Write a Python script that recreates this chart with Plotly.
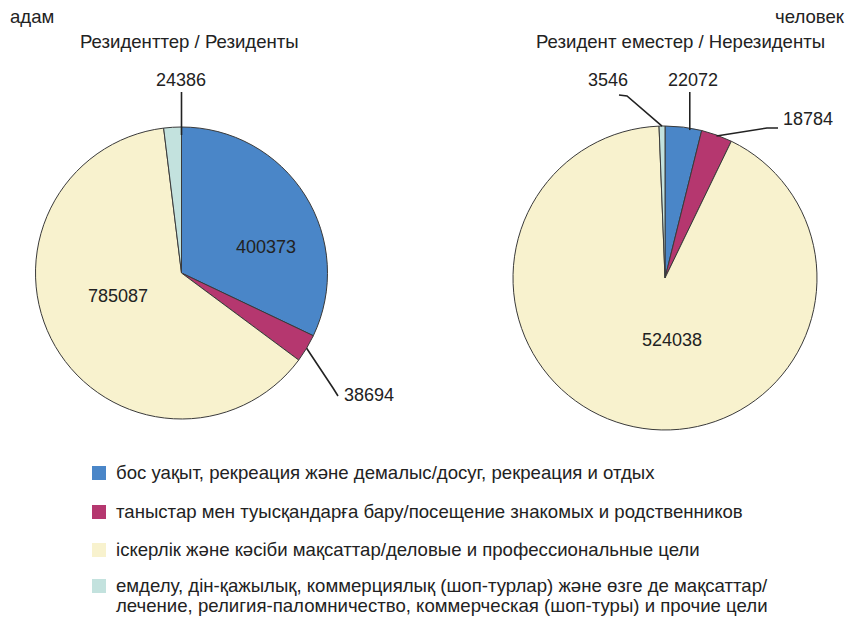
import math
import plotly.graph_objects as go

W, H = 859, 617

# ---- data ----
categories = [
    "бос уақыт, рекреация және демалыс/досуг, рекреация и отдых",
    "таныстар мен туысқандарға бару/посещение знакомых и родственников",
    "іскерлік және кәсіби мақсаттар/деловые и профессиональные цели",
    "емделу, дін-қажылық, коммерциялық (шоп-турлар) және өзге де мақсаттар/<br>лечение, религия-паломничество, коммерческая (шоп-туры) и прочие цели",
]
residents = [400373, 38694, 785087, 24386]
nonresidents = [22072, 18784, 524038, 3546]
titles = ["Резиденттер / Резиденты", "Резидент еместер / Нерезиденты"]
unit_kz = "адам"
unit_ru = "человек"

colors = ["#4a86c8", "#b5376f", "#f8f2ce", "#c3e2de"]
FONT = "Liberation Sans, Arial, sans-serif"
TXT = "#222222"


def px(x):
    return x / W


def py(y):
    return 1 - y / H


# pie geometry (pixels)
pies = [
    dict(vals=residents, cx=181.5, cy=273, r=146),
    dict(vals=nonresidents, cx=665, cy=278, r=152),
]


def angles(vals):
    tot = sum(vals)
    out, a = [], 0.0
    for v in vals:
        da = 360.0 * v / tot
        out.append((a, a + da))
        a += da
    return out


def pt(p, ang, rr):
    t = math.radians(ang)
    return (p["cx"] + rr * math.sin(t), p["cy"] - rr * math.cos(t))


fig = go.Figure()
for p in pies:
    fig.add_trace(go.Pie(
        values=p["vals"], labels=[c.split("<br>")[0] for c in categories], sort=False,
        direction="clockwise", rotation=0, textinfo="none", hoverinfo="label+value",
        marker=dict(colors=colors, line=dict(color="#3a3a3a", width=1)),
        domain=dict(x=[px(p["cx"] - p["r"]), px(p["cx"] + p["r"])],
                    y=[py(p["cy"] + p["r"]), py(p["cy"] - p["r"])]),
        showlegend=False,
    ))

annotations = []
shapes = []


def label(x, y, text, size=18, xanchor="center"):
    annotations.append(dict(x=px(x), y=py(y), xref="paper", yref="paper", text=text,
                            showarrow=False, xanchor=xanchor, yanchor="middle",
                            font=dict(family=FONT, size=size, color=TXT)))


def leader(points):
    d = "M " + " L ".join(f"{px(x)} {py(y)}" for x, y in points)
    shapes.append(dict(type="path", xref="paper", yref="paper", path=d,
                       line=dict(color="#222222", width=1.6)))


# left pie labels
pL, aL = pies[0], angles(residents)
label(266, 247, f"{residents[0]}")
label(118, 296, f"{residents[2]}")
s = pt(pL, (aL[1][0] + aL[1][1]) / 2, pL["r"])
leader([s, (333, 388), (338, 396)])
label(342, 395, f"{residents[1]}", xanchor="left")
s = pt(pL, aL[3][1], pL["r"] - 8)
leader([s, (s[0], 92)])
label(s[0], 80, f"{residents[3]}")

# right pie labels
pR, aR = pies[1], angles(nonresidents)
label(672, 340, f"{nonresidents[2]}")
s = pt(pR, aR[0][0] + 0.68 * (aR[0][1] - aR[0][0]), pR["r"] - 2)
leader([s, (s[0], 92)])
label(s[0] + 3, 80, f"{nonresidents[0]}")
s = pt(pR, (aR[1][0] + aR[1][1]) / 2, pR["r"] - 1)
leader([s, (767, 128), (778, 128)])
label(781, 119, f"{nonresidents[1]}", xanchor="left")
s = pt(pR, (aR[3][0] + aR[3][1]) / 2, pR["r"])
leader([s, (627, 96), (619, 95)])
label(608, 80, f"{nonresidents[3]}")

# titles / units
TS = 18.6
label(189, 42, titles[0], size=TS)
label(680, 42, titles[1], size=TS)
label(8, 17, unit_kz, size=TS, xanchor="left")
label(847, 17, unit_ru, size=TS, xanchor="right")

# legend
rows_y = [472, 511, 549, 585]
for i, (c, t) in enumerate(zip(colors, categories)):
    y = rows_y[i]
    shapes.append(dict(type="rect", xref="paper", yref="paper",
                       x0=px(92), x1=px(106), y0=py(y + 8), y1=py(y - 6),
                       fillcolor=c, line=dict(width=0)))
    for j, line in enumerate(t.split("<br>")):
        annotations.append(dict(x=px(114), y=py(y + 20.5 * j), xref="paper", yref="paper",
                                text=line, showarrow=False, xanchor="left",
                                yanchor="middle", align="left",
                                font=dict(family=FONT, size=TS, color=TXT)))

fig.update_layout(
    width=W, height=H, margin=dict(l=0, r=0, t=0, b=0),
    paper_bgcolor="white", plot_bgcolor="white",
    annotations=annotations, shapes=shapes, showlegend=False,
)
fig.write_html("out.html", config={"displayModeBar": False},
               post_script="document.body.style.margin='0px';document.body.style.overflow='hidden';")
